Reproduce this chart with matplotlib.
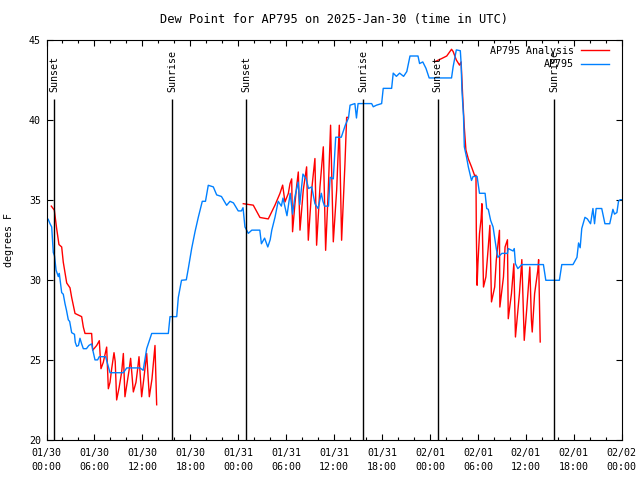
import numpy as np
import matplotlib
matplotlib.use("Agg")
import matplotlib.pyplot as plt
import matplotlib.dates as mdates
from datetime import datetime

# hours since 2025-01-30 00:00 UTC, dew point in F
obs_hours = [0.0, 0.23, 0.44, 0.65, 0.85, 1.0, 1.2, 1.48, 1.6, 1.9, 2.1, 2.32, 2.5, 2.73, 2.9,
             3.15, 3.5, 3.6, 3.78, 4.0, 4.19, 4.4, 4.61, 5.0, 5.3, 5.65, 5.8, 6.07, 6.4, 6.6,
             7.4, 7.95, 9.62, 10.04, 11.7, 12.1, 12.54, 13.17, 15.25, 15.46, 16.3, 16.5, 16.9,
             17.5, 17.75, 18.17, 18.59, 19.0, 19.5, 19.9, 20.25, 20.88, 21.3, 21.9, 22.55,
             22.97, 23.4, 24.0, 24.4, 24.6, 24.84, 25.26, 25.7, 26.7, 26.9, 27.3, 27.7, 28.0,
             28.2, 28.6, 29.0, 29.4, 29.6, 30.1, 30.5, 30.8, 31.1, 31.5, 31.7, 32.1, 32.5,
             32.8, 33.2, 33.6, 34.0, 34.4, 34.6, 34.8, 35.3, 35.5, 35.9, 36.2, 36.9, 37.4,
             37.8, 38.0, 38.6, 38.8, 39.0, 40.7, 40.9, 41.3, 41.95, 42.15, 43.2, 43.4, 43.8,
             44.2, 44.7, 45.1, 45.3, 45.5, 46.5, 46.7, 47.1, 47.5, 47.9, 50.7, 50.9, 51.3,
             51.8, 51.9, 52.0, 52.2, 52.3, 52.6, 52.8, 53.2, 53.4, 53.9, 54.2, 54.9, 55.1,
             55.3, 55.6, 55.9, 56.3, 56.5, 57.0, 57.7, 57.8, 58.4, 58.55, 58.7, 59.0, 59.2,
             59.5, 62.2, 62.5, 64.2, 64.5, 65.9, 66.4, 66.6, 66.8, 67.0, 67.4, 67.7, 68.1,
             68.4, 68.6, 68.8, 69.5, 69.9, 70.5, 70.9, 71.1, 71.4, 71.6, 71.8, 72.0]
obs_dewpt = [33.9, 33.76, 33.5, 33.3, 31.7, 31.5, 30.6, 30.2, 30.4, 29.2, 29.1, 28.5, 28.1, 27.5, 27.4,
             26.7, 26.6, 26.1, 25.85, 25.9, 26.35, 26.0, 25.7, 25.7, 25.9, 26.0, 25.6, 25.0, 25.0, 25.2,
             25.2, 24.2, 24.2, 24.5, 24.5, 24.35, 25.7, 26.65, 26.65, 27.7, 27.7, 28.9, 29.97,
             30.0, 30.7, 31.95, 33.0, 33.9, 34.9, 34.9, 35.9, 35.8, 35.3, 35.2, 34.65,
             34.9, 34.8, 34.3, 34.3, 34.5, 33.3, 32.9, 33.1, 33.1, 32.25, 32.6, 32.05, 32.5,
             33.1, 33.9, 34.9, 34.6, 35.1, 34.0, 35.4, 34.1, 35.2, 36.1, 34.7, 36.6, 36.3,
             35.7, 35.8, 34.75, 34.45, 35.4, 34.9, 34.6, 34.6, 36.4, 36.3, 38.9, 38.9, 39.65,
             40.1, 40.9, 41.0, 40.1, 41.0, 41.0, 40.8, 40.9, 41.0, 41.95, 41.95, 42.9, 42.7,
             42.9, 42.7, 43.0, 43.5, 43.97, 43.97, 43.5, 43.6, 43.2, 42.6, 42.6, 43.3, 44.35,
             44.3, 43.5, 41.85, 40.2, 38.3, 37.6, 37.05, 36.2, 36.45, 36.45, 35.4, 35.4, 34.45,
             34.4, 33.7, 33.3, 31.95, 31.4, 31.65, 31.65, 31.95, 31.8, 31.95, 31.0, 30.7, 30.8,
             30.95, 30.95, 29.97, 29.97, 30.95, 30.95, 31.4, 32.3, 32.0, 33.2, 33.9, 33.8, 33.5,
             34.45, 33.5, 34.45, 34.45, 33.5, 33.5, 34.4, 34.1, 34.2, 34.9, 35.0, 35.0]

# analysis: three separate pieces (nan = gap)
ana_hours = [0.6, 0.98, 1.27, 1.56, 1.9, 2.1, 2.53, 2.94, 3.15, 3.57, 4.4, 4.61, 4.82, 5.65, 5.78,
             6.28, 6.61, 6.82, 7.11, 7.53, 7.74, 7.95, 8.16, 8.45, 8.6, 8.78, 9.1, 9.41, 9.62,
             9.82, 10.1, 10.35, 10.53, 10.87, 11.2, 11.4, 11.58, 11.91, 12.2, 12.54, 12.87,
             13.2, 13.58, 13.79, np.nan,
             24.63, 25.88, 26.72, 27.76, 28.6, 29.22, 29.56, 29.85, 30.27, 30.48, 30.69, 30.8,
             31.1, 31.3, 31.52, 31.73, 32.14, 32.56, 32.77, 33.19, 33.6, 33.81, 34.23, 34.65,
             34.94, 35.27, 35.56, 35.9, 36.32, 36.65, 36.94, 37.36, 37.57, 37.78, np.nan,
             48.6, 49.5, 50.1, 50.7, 50.9, 51.3, 51.7, 51.9, 52.1, 52.3, 52.5, 52.8, 53.2, 53.6,
             53.76, 53.8, 53.9, 54.0, 54.2, 54.4, 54.5, 54.7, 55.0, 55.3, 55.5, 55.7, 56.1,
             56.3, 56.7, 56.75, 57.2, 57.4, 57.7, 57.8, 58.2, 58.5, 58.7, 59.0, 59.2, 59.5,
             59.8, 60.1, 60.5, 60.7, 60.8, 61.1, 61.5, 61.6, 61.8]
ana_dewpt = [34.6, 34.35, 33.2, 32.2, 32.05, 31.1, 29.8, 29.5, 28.9, 27.9, 27.7, 27.05, 26.65, 26.65, 25.6,
             25.9, 26.2, 24.45, 24.85, 25.8, 23.2, 23.6, 24.45, 25.45, 24.9, 22.5, 23.3, 24.25, 25.4,
             22.7, 23.6, 24.4, 25.1, 23.0, 23.6, 24.4, 25.2, 22.7, 23.9, 25.4, 22.7,
             23.8, 25.9, 22.2, np.nan,
             34.75, 34.66, 33.89, 33.8, 34.66, 35.39, 35.91, 34.86, 35.39, 36.0, 36.3, 33.0,
             34.76, 35.8, 36.73, 33.1, 35.6, 37.05, 32.47, 35.6, 37.57, 32.16, 35.8, 38.3,
             31.84, 35.6, 39.65, 32.37, 35.6, 39.65, 32.47, 37.26, 40.14, 40.14, np.nan,
             43.61, 43.82, 43.97, 44.39, 44.25, 43.72, 43.4, 43.6, 41.4, 39.5, 38.1, 37.55, 37.05, 36.5,
             36.53, 33.09, 29.66, 31.0, 32.88, 33.8, 34.75, 29.55, 30.18, 32.05, 33.4, 28.62, 29.55,
             31.22, 33.09, 28.3, 30.18, 32.05, 32.5, 27.57, 29.14, 31.0, 26.43, 28.1, 29.14, 31.26,
             26.22, 28.1, 30.8, 27.47, 26.74, 29.14, 30.6, 31.26, 26.12]

sun_hours = [0.98, 15.75, 25.0, 39.68, 48.95, 63.58]
sun_names = ["Sunset", "Sunrise", "Sunset", "Sunrise", "Sunset", "Sunrise"]

plt.rcParams['font.family'] = ['DejaVu Sans Mono']
plt.rcParams['font.size'] = 7.2

start = mdates.date2num(datetime(2025, 1, 30))
to_x = lambda h: start + np.array(h, dtype=float) / 24.0

fig = plt.figure(figsize=(6.4, 4.8), dpi=100)
ax = fig.add_axes([46.5 / 640, 40 / 480, 575.2 / 640, 400.5 / 480])

ax.plot(to_x(ana_hours), ana_dewpt, color='#ff0000', lw=1.0, label='AP795 Analysis')
ax.plot(to_x(obs_hours), obs_dewpt, color='#0080ff', lw=1.0, label='AP795')

for h, name in zip(sun_hours, sun_names):
    ax.vlines(to_x(h), 20, 41.3, color='black', lw=1.0)
    ax.text(to_x(h), 41.72, name, rotation=90, ha='center', va='bottom')

ax.set_xlim(to_x(0), to_x(72))
ax.set_ylim(20, 45)
ax.xaxis.set_major_locator(mdates.HourLocator(byhour=range(0, 24, 6)))
ax.xaxis.set_minor_locator(mdates.HourLocator(byhour=range(0, 24, 2)))
ax.xaxis.set_major_formatter(mdates.DateFormatter('%m/%d\n%H:%M'))
ax.set_yticks(range(20, 46, 5))
ax.tick_params(which='both', direction='in', top=True, right=True, width=0.8)
ax.tick_params(which='major', length=4.5)
ax.tick_params(which='minor', length=2.5)
ax.tick_params(axis='x', pad=6)
ax.tick_params(axis='y', pad=4)
for lab in ax.get_xticklabels():
    lab.set_linespacing(1.5)
for s in ax.spines.values():
    s.set_linewidth(0.8)

ax.set_title('Dew Point for AP795 on 2025-Jan-30 (time in UTC)', pad=12)
ax.set_ylabel('degrees F')
ax.yaxis.set_label_coords(-0.057, 0.5)

ax.legend(loc='upper right', bbox_to_anchor=(0.978, 0.985), frameon=False, markerfirst=False,
          handlelength=2.8, handletextpad=0.7, labelspacing=0.35, borderaxespad=0, borderpad=0)

plt.savefig('out.png', dpi=100)
